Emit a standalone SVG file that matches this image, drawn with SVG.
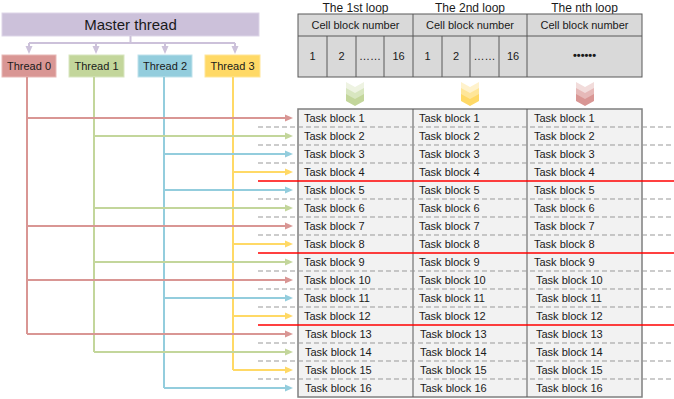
<svg xmlns="http://www.w3.org/2000/svg" width="674" height="399" viewBox="0 0 674 399">
<style>
text{font-family:"Liberation Sans",Arial,sans-serif;fill:#1a1a1a}
.t11{font-size:11px}
.t12{font-size:12px}
.mid{text-anchor:middle}
.r{stroke:#d99694}
.g{stroke:#c3d69b}
.b{stroke:#93cddd}
.y{stroke:#ffd966}
.ln{fill:none;stroke-width:2}
.dash{stroke:#999;stroke-width:1;stroke-dasharray:5 3;fill:none}
.red{stroke:#ff0000;stroke-width:1.5}
.hdr{fill:#d9d9d9;stroke:#595959;stroke-width:1}
.tbl{fill:#f2f2f2;stroke:#7f7f7f;stroke-width:1.5}
.div{stroke:#595959;stroke-width:1}
</style>
<defs>
<marker id="ar" markerUnits="userSpaceOnUse" markerWidth="8" markerHeight="8" viewBox="0 0 8 8" refX="3" refY="4" orient="auto"><path d="M0,0.5 L8,4 L0,7.5 Z" fill="#d99694"/></marker>
<marker id="ag" markerUnits="userSpaceOnUse" markerWidth="8" markerHeight="8" viewBox="0 0 8 8" refX="3" refY="4" orient="auto"><path d="M0,0.5 L8,4 L0,7.5 Z" fill="#c3d69b"/></marker>
<marker id="ab" markerUnits="userSpaceOnUse" markerWidth="8" markerHeight="8" viewBox="0 0 8 8" refX="3" refY="4" orient="auto"><path d="M0,0.5 L8,4 L0,7.5 Z" fill="#93cddd"/></marker>
<marker id="ay" markerUnits="userSpaceOnUse" markerWidth="8" markerHeight="8" viewBox="0 0 8 8" refX="3" refY="4" orient="auto"><path d="M0,0.5 L8,4 L0,7.5 Z" fill="#ffd966"/></marker>
<marker id="ap" markerUnits="userSpaceOnUse" markerWidth="8" markerHeight="8" viewBox="0 0 8 8" refX="3" refY="4" orient="auto"><path d="M0,0.5 L8,4 L0,7.5 Z" fill="#ccc1da"/></marker>
</defs>

<g id="master">
<rect x="2" y="13" width="257" height="23" fill="#ccc1da" stroke="#ddd5e8" stroke-width="1"/>
<text x="130.5" y="29.5" class="mid" font-size="15">Master thread</text>
</g>

<g id="thread0"><rect x="2" y="55" width="54" height="22" fill="#d99694" stroke="#e8b8b6"/><text x="29" y="70" class="t11 mid">Thread 0</text></g>
<g id="thread1"><rect x="69" y="55" width="55" height="22" fill="#c3d69b" stroke="#d8e6c0"/><text x="96.5" y="70" class="t11 mid">Thread 1</text></g>
<g id="thread2"><rect x="138" y="55" width="54" height="22" fill="#93cddd" stroke="#bfe2eb"/><text x="165" y="70" class="t11 mid">Thread 2</text></g>
<g id="thread3"><rect x="205" y="55" width="55" height="22" fill="#ffd966" stroke="#ffe699"/><text x="232.5" y="70" class="t11 mid">Thread 3</text></g>

<g id="loop-header">
<text x="355.5" y="12" class="t12 mid">The 1st loop</text>
<text x="470" y="12" class="t12 mid">The 2nd loop</text>
<text x="584.5" y="12" class="t12 mid">The nth loop</text>
<rect x="298" y="14" width="344" height="63" class="hdr"/>
<line x1="298" y1="36" x2="642" y2="36" class="div"/>
<line x1="413" y1="14" x2="413" y2="77" class="div"/>
<line x1="527" y1="14" x2="527" y2="77" class="div"/>
<line x1="327" y1="36" x2="327" y2="77" class="div"/>
<line x1="356" y1="36" x2="356" y2="77" class="div"/>
<line x1="384" y1="36" x2="384" y2="77" class="div"/>
<line x1="442" y1="36" x2="442" y2="77" class="div"/>
<line x1="470" y1="36" x2="470" y2="77" class="div"/>
<line x1="499" y1="36" x2="499" y2="77" class="div"/>
<text x="355.5" y="29" class="t11 mid">Cell block number</text>
<text x="470" y="29" class="t11 mid">Cell block number</text>
<text x="584.5" y="29" class="t11 mid">Cell block number</text>
<text x="312.5" y="60" class="t11 mid">1</text>
<text x="341.5" y="60" class="t11 mid">2</text>
<text x="370" y="60" class="t11 mid">……</text>
<text x="398.5" y="60" class="t11 mid">16</text>
<text x="427.5" y="60" class="t11 mid">1</text>
<text x="456" y="60" class="t11 mid">2</text>
<text x="484.5" y="60" class="t11 mid">……</text>
<text x="513" y="60" class="t11 mid">16</text>
<text x="584.5" y="59" class="t11 mid" font-weight="bold">••••••</text>
</g>

<g id="chevrons">
<g transform="translate(355,82)">
<path d="M-9,0 L0,5 L9,0 L9,7 L0,12 L-9,7 Z" fill="#eef3e2"/>
<path d="M-9,6 L0,11 L9,6 L9,13 L0,18 L-9,13 Z" fill="#d8e6c0"/>
<path d="M-9,12 L0,17 L9,12 L9,19 L0,24 L-9,19 Z" fill="#c3d69b"/>
</g>
<g transform="translate(470,82)">
<path d="M-9,0 L0,5 L9,0 L9,7 L0,12 L-9,7 Z" fill="#fff2cc"/>
<path d="M-9,6 L0,11 L9,6 L9,13 L0,18 L-9,13 Z" fill="#ffe699"/>
<path d="M-9,12 L0,17 L9,12 L9,19 L0,24 L-9,19 Z" fill="#ffd966"/>
</g>
<g transform="translate(585,82)">
<path d="M-9,0 L0,5 L9,0 L9,7 L0,12 L-9,7 Z" fill="#f2dcdb"/>
<path d="M-9,6 L0,11 L9,6 L9,13 L0,18 L-9,13 Z" fill="#e6b9b8"/>
<path d="M-9,12 L0,17 L9,12 L9,19 L0,24 L-9,19 Z" fill="#d99694"/>
</g>
</g>

<g id="task-table">
<rect x="298" y="109" width="344" height="288" class="tbl"/>
<line x1="413" y1="109" x2="413" y2="397" class="div"/>
<line x1="527" y1="109" x2="527" y2="397" class="div"/>
<g class="t11">
<text x="304" y="122">Task block 1</text><text x="419" y="122">Task block 1</text><text x="534" y="122">Task block 1</text>
<text x="304" y="140">Task block 2</text><text x="419" y="140">Task block 2</text><text x="534" y="140">Task block 2</text>
<text x="304" y="158">Task block 3</text><text x="419" y="158">Task block 3</text><text x="534" y="158">Task block 3</text>
<text x="304" y="176">Task block 4</text><text x="419" y="176">Task block 4</text><text x="534" y="176">Task block 4</text>
<text x="304" y="194">Task block 5</text><text x="419" y="194">Task block 5</text><text x="534" y="194">Task block 5</text>
<text x="304" y="212">Task block 6</text><text x="419" y="212">Task block 6</text><text x="534" y="212">Task block 6</text>
<text x="304" y="230">Task block 7</text><text x="419" y="230">Task block 7</text><text x="534" y="230">Task block 7</text>
<text x="304" y="248">Task block 8</text><text x="419" y="248">Task block 8</text><text x="534" y="248">Task block 8</text>
<text x="304" y="266">Task block 9</text><text x="419" y="266">Task block 9</text><text x="534" y="266">Task block 9</text>
<text x="304" y="284">Task block 10</text><text x="419" y="284">Task block 10</text><text x="536" y="284">Task block 10</text>
<text x="304" y="302">Task block 11</text><text x="419" y="302">Task block 11</text><text x="536" y="302">Task block 11</text>
<text x="304" y="320">Task block 12</text><text x="419" y="320">Task block 12</text><text x="536" y="320">Task block 12</text>
<text x="305" y="338">Task block 13</text><text x="420" y="338">Task block 13</text><text x="536" y="338">Task block 13</text>
<text x="305" y="356">Task block 14</text><text x="420" y="356">Task block 14</text><text x="536" y="356">Task block 14</text>
<text x="305" y="374">Task block 15</text><text x="420" y="374">Task block 15</text><text x="536" y="374">Task block 15</text>
<text x="305" y="392">Task block 16</text><text x="420" y="392">Task block 16</text><text x="536" y="392">Task block 16</text>
</g>
</g>

<g id="separators">
<path class="dash" d="M258,127H674M258,145H674M258,163H674M258,199H674M258,217H674M258,235H674M258,271H674M258,289H674M258,307H674M258,343H674M258,361H674M258,379H674"/>
<line x1="258" y1="181" x2="674" y2="181" class="red"/>
<line x1="258" y1="253" x2="674" y2="253" class="red"/>
<line x1="258" y1="325" x2="674" y2="325" class="red"/>
</g>

<g id="connectors">
<path d="M130.5,36V43M29,43H235" fill="none" stroke="#ccc1da" stroke-width="2"/>
<path d="M29,43V49" fill="none" stroke="#ccc1da" stroke-width="2" marker-end="url(#ap)"/>
<path d="M96,43V49" fill="none" stroke="#ccc1da" stroke-width="2" marker-end="url(#ap)"/>
<path d="M165,43V49" fill="none" stroke="#ccc1da" stroke-width="2" marker-end="url(#ap)"/>
<path d="M235,43V49" fill="none" stroke="#ccc1da" stroke-width="2" marker-end="url(#ap)"/>

<path class="ln r" d="M27,77V334"/>
<path class="ln g" d="M94,77V352"/>
<path class="ln b" d="M164,77V388"/>
<path class="ln y" d="M233,77V370"/>

<path class="ln r" d="M27,118H288" marker-end="url(#ar)"/>
<path class="ln g" d="M94,136H288" marker-end="url(#ag)"/>
<path class="ln b" d="M164,154H288" marker-end="url(#ab)"/>
<path class="ln y" d="M233,172H288" marker-end="url(#ay)"/>
<path class="ln b" d="M164,190H288" marker-end="url(#ab)"/>
<path class="ln g" d="M94,208H288" marker-end="url(#ag)"/>
<path class="ln r" d="M27,226H288" marker-end="url(#ar)"/>
<path class="ln y" d="M233,244H288" marker-end="url(#ay)"/>
<path class="ln g" d="M94,262H288" marker-end="url(#ag)"/>
<path class="ln r" d="M27,280H288" marker-end="url(#ar)"/>
<path class="ln b" d="M164,298H288" marker-end="url(#ab)"/>
<path class="ln y" d="M233,316H288" marker-end="url(#ay)"/>
<path class="ln r" d="M27,334H288" marker-end="url(#ar)"/>
<path class="ln g" d="M94,352H288" marker-end="url(#ag)"/>
<path class="ln y" d="M233,370H288" marker-end="url(#ay)"/>
<path class="ln b" d="M164,388H288" marker-end="url(#ab)"/>
</g>
</svg>
